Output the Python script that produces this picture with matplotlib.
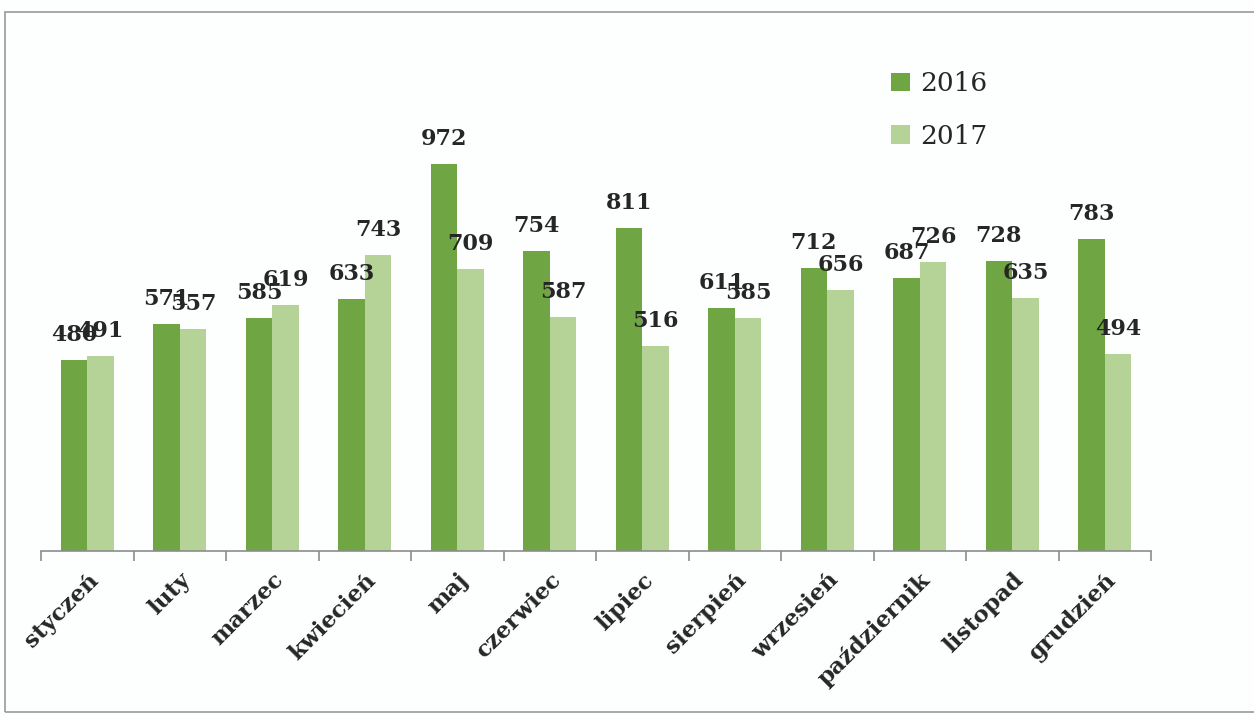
import matplotlib
matplotlib.use("Agg")
import matplotlib.pyplot as plt
from matplotlib.patches import Rectangle
import numpy as np

months = ["styczeń", "luty", "marzec", "kwiecień", "maj", "czerwiec", "lipiec",
          "sierpień", "wrzesień", "październik", "listopad", "grudzień"]
values_2016 = [480, 571, 585, 633, 972, 754, 811, 611, 712, 687, 728, 783]
values_2017 = [491, 557, 619, 743, 709, 587, 516, 585, 656, 726, 635, 494]
series_names = ["2016", "2017"]

col_2016 = "#6fa543"
col_2017 = "#b5d396"

W, H = 1254, 715
fig = plt.figure(figsize=(W / 100, H / 100), dpi=100)
fig.patch.set_facecolor("#fdfefe")

# outer frame of the scanned chart
frame = Rectangle((5 / W, 3 / H), 1.2, (H - 12 - 3) / H, transform=fig.transFigure,
                  fill=False, edgecolor="#9a9a9a", linewidth=1.2)
fig.add_artist(frame)

ax_left, ax_right = 41, 1151
ax_bottom, ax_top = 551, 73.4
ax = fig.add_axes([ax_left / W, (H - ax_bottom) / H,
                   (ax_right - ax_left) / W, (ax_bottom - ax_top) / H])
ax.set_facecolor("none")

x = np.arange(len(months))
bw = 0.287
b1 = ax.bar(x - bw / 2, values_2016, width=bw, color=col_2016, label=series_names[0])
b2 = ax.bar(x + bw / 2, values_2017, width=bw, color=col_2017, label=series_names[1])

lab_font = dict(family="DejaVu Serif", weight="bold", size=16, color="#262626")
for bars, vals in ((b1, values_2016), (b2, values_2017)):
    for r, v in zip(bars, vals):
        ax.annotate(f"{v}", (r.get_x() + r.get_width() / 2, v), xytext=(0, 10),
                    textcoords="offset points", ha="center", va="bottom", **lab_font)

ax.set_xlim(-0.5, len(months) - 0.5)
ax.set_ylim(0, 1200)
ax.set_yticks([])
for s in ("left", "right", "top"):
    ax.spines[s].set_visible(False)
ax.spines["bottom"].set_color("#8c8c8c")
ax.spines["bottom"].set_linewidth(1.2)

ax.set_xticks(x)
ax.set_xticklabels(months, rotation=45, ha="right", va="top", rotation_mode="anchor",
                   fontfamily="DejaVu Serif", fontweight="bold", fontsize=16.5, color="#262626")
ax.tick_params(axis="x", which="major", length=0, pad=13)
ax.set_xticks(np.arange(-0.5, len(months)), minor=True)
ax.tick_params(axis="x", which="minor", length=7, width=1.2, color="#8c8c8c")

leg = fig.legend(handles=[b1, b2], labels=series_names, loc="upper left",
                 bbox_to_anchor=(878 / W, 1 - 58 / H), frameon=False,
                 prop=dict(family="DejaVu Serif", size=19),
                 handlelength=0.7, handleheight=0.7, handletextpad=0.4,
                 labelspacing=1.05, borderpad=0)
for t in leg.get_texts():
    t.set_color("#262626")

fig.savefig("out.png", dpi=100, facecolor=fig.get_facecolor())
